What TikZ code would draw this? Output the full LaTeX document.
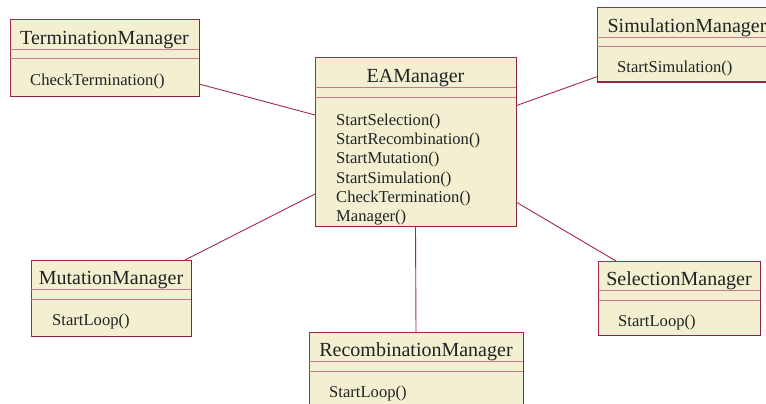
\documentclass[tikz,border=0pt]{standalone}
\usepackage{fontspec}
\setmainfont{Liberation Serif}
\usetikzlibrary{calc}

\definecolor{umlfill}{HTML}{F3F0D2}
\definecolor{umlline}{HTML}{A3294F}
\definecolor{umlsep}{HTML}{C97A92}
\definecolor{umltext}{HTML}{222222}

\tikzset{
  classbox/.style={draw=umlline, fill=umlfill, line width=1pt, rectangle,
    anchor=north west, inner sep=0pt, outer sep=0pt},
  titletext/.style={font=\fontsize{20}{24}\selectfont, anchor=base,
    inner sep=0pt, text=umltext},
  optext/.style={font=\fontsize{16.6}{19}\selectfont, anchor=base west,
    inner sep=0pt, text=umltext},
  sepline/.style={draw=umlsep, line width=1pt},
  shadowline/.style={draw=umlline!85!black, line width=1.6pt},
  link/.style={draw=umlline, line width=0.9pt},
}

% class box: name, x, y, width, height, title
\newcommand\umlclass[6]{%
  \node[classbox, minimum width=#4pt, minimum height=#5pt] (#1) at (#2,#3) {};
  \draw[shadowline] ([xshift=0.6pt]#1.north east)
    -- ([xshift=0.6pt,yshift=-0.6pt]#1.south east)
    -- ([yshift=-0.6pt]#1.south west);
  \draw[sepline] ([yshift=-29.5pt]#1.north west) -- ([yshift=-29.5pt]#1.north east);
  \draw[sepline] ([yshift=-39pt]#1.north west) -- ([yshift=-39pt]#1.north east);
  \node[titletext] (#1-title) at ([yshift=-24.5pt]#1.north) {#6};
}

\begin{document}
\begin{tikzpicture}[x=1pt, y=-1pt]
  \useasboundingbox (0,0) rectangle (766,404);
  \fill[white] (0,0) rectangle (766,404);
  \clip (0,0) rectangle (766,404);

  % classes
  \umlclass{tm}{10}{20}{189}{76}{TerminationManager}
  \node[optext] (tm-op) at ([xshift=20pt,yshift=-65pt]tm.north west) {CheckTermination()};

  \umlclass{ea}{315}{58}{201}{168}{EAManager}
  \foreach \op [count=\i from 0] in {StartSelection(), StartRecombination(),
      StartMutation(), StartSimulation(), CheckTermination(), Manager()}
    \node[optext] (ea-op\i) at ([xshift=21pt,yshift={-67.5pt-19.2pt*\i}]ea.north west) {\op};

  \umlclass{sim}{597}{8}{180}{74}{SimulationManager}
  \node[optext] (sim-op) at ([xshift=20pt,yshift=-65pt]sim.north west) {StartSimulation()};

  \umlclass{mu}{31}{260}{160}{76}{MutationManager}
  \node[optext] (mu-op) at ([xshift=21pt,yshift=-65pt]mu.north west) {StartLoop()};

  \umlclass{se}{598}{261}{162}{74}{SelectionManager}
  \node[optext] (se-op) at ([xshift=20pt,yshift=-65pt]se.north west) {StartLoop()};

  \umlclass{rc}{309}{332}{214}{90}{RecombinationManager}
  \node[optext] (rc-op) at ([xshift=20pt,yshift=-65pt]rc.north west) {StartLoop()};

  % associations
  \draw[link] ([yshift=-64pt]tm.north east) -- ([yshift=-57pt]ea.north west);
  \draw[link] ([yshift=-47.7pt]ea.north east) -- ([yshift=-68.7pt]sim.north west);
  \draw[link] ([xshift=-6pt]mu.north east) -- ([yshift=-136pt]ea.north west);
  \draw[link] ([yshift=-144pt]ea.north east) -- ([xshift=18pt]se.north west);
  \draw[link] (ea.south) -- (rc.north);
\end{tikzpicture}
\end{document}
